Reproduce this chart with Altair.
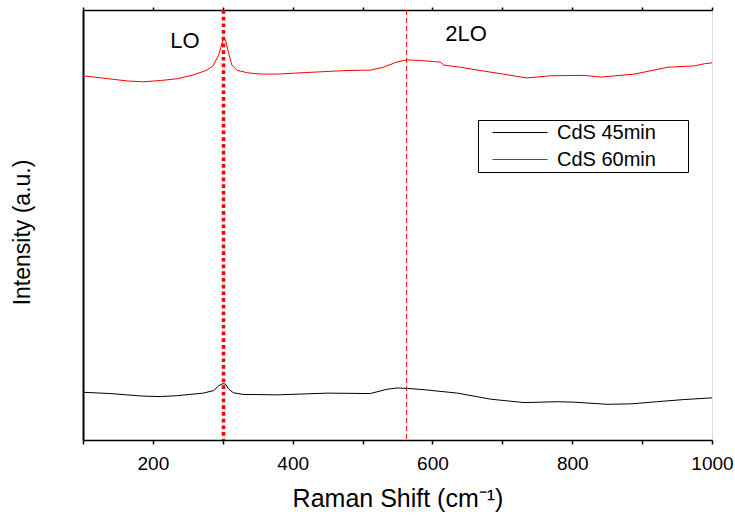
import altair as alt
import pandas as pd

# Raman spectra (arbitrary intensity units)
wn_60 = [100, 163, 186, 211, 234, 258, 277, 286, 294, 299, 301, 304, 308, 313, 320, 335, 354, 378,
         401, 425, 449, 473, 497, 511, 530, 549, 563, 578, 602, 611, 616, 640, 673, 697, 735, 769,
         817, 841, 889, 937, 975, 989, 1000]
int_60 = [847, 835, 833, 836, 840, 849, 860, 870, 895, 923, 935, 930, 902, 872, 860, 854, 851, 851,
          853, 855, 857, 859, 860, 860, 867, 879, 884, 883, 880, 879, 872, 867, 858, 852, 842, 847,
          848, 844, 851, 867, 870, 875, 877]

wn_45 = [100, 139, 186, 211, 234, 272, 287, 294, 300, 304, 308, 315, 329, 378, 450, 511, 535, 550,
         564, 588, 636, 683, 731, 779, 803, 850, 884, 921, 959, 1000]
int_45 = [111, 108, 102, 101, 103, 109, 115, 126, 131, 130, 119, 110, 106, 105, 109, 108, 118, 121,
          120, 117, 109, 95, 87, 89, 88, 83, 84, 89, 94, 98]

series_names = ["CdS 45min", "CdS 60min"]
series_colors = ["#000000", "#ff0000"]

peak_labels = ["LO", "2LO"]
peak_pos = [301, 563]
label_x = [246, 648]
label_y = [929, 944]

x_ticks = list(range(100, 1001, 100))

df = pd.concat([
    pd.DataFrame({"shift": wn_45, "intensity": int_45, "series": series_names[0]}),
    pd.DataFrame({"shift": wn_60, "intensity": int_60, "series": series_names[1]}),
])
peaks = pd.DataFrame({"pos": peak_pos, "label": peak_labels})
labels = pd.DataFrame({"x": label_x, "y": label_y, "label": peak_labels})

FONT = "Liberation Sans"
xscale = alt.Scale(domain=[100, 1000], nice=False, zero=False)
yscale = alt.Scale(domain=[0, 1000], nice=False, zero=False)

lines = alt.Chart(df).mark_line(strokeWidth=1).encode(
    x=alt.X("shift:Q", scale=xscale,
            axis=alt.Axis(title="Raman Shift (cm⁻¹)", values=x_ticks, format="d",
                          labelExpr="datum.value % 200 == 0 ? datum.label : ''",
                          tickSize=4, tickWidth=1.5, tickColor="black",
                          domainColor="black", domainWidth=1.5,
                          labelFont=FONT, labelFontSize=19, labelColor="black",
                          labelPadding=10, labelFlush=False,
                          titleFont=FONT, titleFontSize=25, titleFontWeight="normal",
                          titleColor="black", titlePadding=13, grid=False)),
    y=alt.Y("intensity:Q", scale=yscale,
            axis=alt.Axis(title="Intensity (a.u.)", labels=False, ticks=False,
                          domainColor="black", domainWidth=2,
                          titleFont=FONT, titleFontSize=23, titleFontWeight="normal",
                          titleColor="black", titlePadding=49, titleY=222, grid=False)),
    color=alt.Color("series:N",
                    scale=alt.Scale(domain=series_names, range=series_colors),
                    legend=alt.Legend(title=None, orient="none", legendX=395, legendY=110,
                                      symbolType="M0.2,0H5.7", symbolSize=400,
                                      symbolStrokeWidth=1, labelFont=FONT,
                                      labelFontSize=20, labelColor="black",
                                      labelOffset=56,
                                      labelExpr="datum.label + '\u2003\u2002\u200b'",
                                      strokeColor="black", padding=2,
                                      fillColor="white", rowPadding=6)),
    order="shift:Q",
)

lo_rule = alt.Chart(peaks[peaks["label"] == "LO"]).mark_rule(
    color="#ff0000", strokeWidth=3.6, strokeDash=[3.7, 3]
).encode(x=alt.X("pos:Q", scale=xscale, axis=None))

tlo_rule = alt.Chart(peaks[peaks["label"] == "2LO"]).mark_rule(
    color="#ff0000", strokeWidth=1, strokeDash=[5, 3]
).encode(x=alt.X("pos:Q", scale=xscale, axis=None))

texts = alt.Chart(labels).mark_text(
    font=FONT, fontSize=22, color="black", align="center", baseline="middle"
).encode(
    x=alt.X("x:Q", scale=xscale, axis=None),
    y=alt.Y("y:Q", scale=yscale, axis=None),
    text="label:N",
)

top_axis = alt.Chart(pd.DataFrame({"shift": x_ticks})).mark_point(opacity=0).encode(
    x=alt.X("shift:Q", scale=xscale,
            axis=alt.Axis(orient="top", values=x_ticks, labels=False, title=None,
                          tickSize=3, tickWidth=1.5, tickColor="black",
                          domainColor="black", domainWidth=1.5, grid=False)),
)

chart = alt.layer(lines, lo_rule, tlo_rule, texts, top_axis).resolve_axis(
    x="independent", y="independent"
).properties(
    width=629, height=430,
    autosize=alt.AutoSizeParams(type="none"),
    padding={"left": 83, "top": 10, "right": 23, "bottom": 76},
).configure_view(
    stroke="black", strokeWidth=1.5
).configure(background="white")

chart.save("out.html", embed_options={"renderer": "svg", "actions": False})
